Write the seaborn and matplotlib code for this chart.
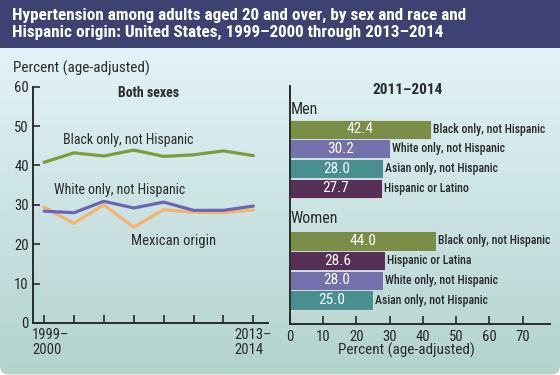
import numpy as np
import pandas as pd
import matplotlib
matplotlib.use("Agg")
import matplotlib.pyplot as plt
import matplotlib.transforms as mtransforms
from matplotlib.patches import FancyBboxPatch, Rectangle
import seaborn as sns

# ---- data ----
periods = ["1999–\n2000", "", "", "", "", "", "", "2013–\n2014"]
black_trend = [40.8, 43.2, 42.4, 43.9, 42.3, 42.7, 43.7, 42.5]
white_trend = [28.4, 28.0, 30.9, 29.2, 30.7, 28.6, 28.6, 29.7]
mexican_trend = [29.4, 25.3, 30.0, 24.3, 28.8, 28.1, 28.0, 28.7]

men_groups = ["Black only, not Hispanic", "White only, not Hispanic",
              "Asian only, not Hispanic", "Hispanic or Latino"]
men_values = [42.4, 30.2, 28.0, 27.7]
women_groups = ["Black only, not Hispanic", "Hispanic or Latina",
                "White only, not Hispanic", "Asian only, not Hispanic"]
women_values = [44.0, 28.6, 28.0, 25.0]

GREEN = "#7f9a3b"
BLUE = "#6a66b6"
ORANGE = "#f6b36e"
TEAL = "#3f9a9b"
PLUM = "#5c2a5c"
NAVY = "#3d4272"
DARK = "#2b2b2b"

bar_colors = {"Black only, not Hispanic": GREEN, "White only, not Hispanic": BLUE,
              "Asian only, not Hispanic": TEAL, "Hispanic or Latino": PLUM,
              "Hispanic or Latina": PLUM}

sns.set_theme(style="white")
plt.rcParams["font.family"] = ["Roboto Condensed", "DejaVu Sans"]

W, H = 560, 375
fig = plt.figure(figsize=(W / 100, H / 100), dpi=100)
fig.patch.set_facecolor("white")


def px_axes(x0, y0, x1, y1, **kw):
    return fig.add_axes([x0 / W, 1 - y1 / H, (x1 - x0) / W, (y1 - y0) / H], **kw)


def px_shift(dx, dy):
    return mtransforms.ScaledTranslation(dx / 100, dy / 100, fig.dpi_scale_trans)


# ---- background ----
bg = px_axes(0, 0, W, H, zorder=-10)
bg.set_xlim(0, W)
bg.set_ylim(H, 0)
bg.axis("off")
grad = np.linspace(0, 1, 256).reshape(-1, 1)
c0 = np.array(matplotlib.colors.to_rgb("#e3f3f9"))
c1 = np.array(matplotlib.colors.to_rgb("#b3d3cd"))
img = c0 + (c1 - c0) * grad[..., None]
im = bg.imshow(img, extent=(0, W, H, 48), aspect="auto")
clip = FancyBboxPatch((0, -20), W, H + 20 - 0.5, boxstyle="round,pad=0,rounding_size=9",
                      transform=bg.transData, facecolor="none", edgecolor="none")
bg.add_patch(clip)
im.set_clip_path(clip)
bg.add_patch(Rectangle((0, 0), W, 48, facecolor=NAVY, edgecolor="none"))
bg.text(12, 24, "Hypertension among adults aged 20 and over, by sex and race and\n"
        "Hispanic origin: United States, 1999–2000 through 2013–2014",
        color="white", fontsize=12.3, fontweight="bold", va="center", ha="left",
        linespacing=1.2)
bg.text(13, 68, "Percent (age-adjusted)", fontsize=11, va="center", ha="left", color=DARK)

# ---- left panel: trend lines ----
ax1 = px_axes(33, 86.7, 268, 323, facecolor="none")
trend = pd.DataFrame({
    "period": np.tile(np.arange(len(periods)), 3),
    "value": black_trend + white_trend + mexican_trend,
    "group": ["Black"] * 8 + ["White"] * 8 + ["Mexican"] * 8,
})
sns.lineplot(data=trend, x="period", y="value", hue="group",
             palette={"Black": GREEN, "White": BLUE, "Mexican": ORANGE},
             hue_order=["Black", "Mexican", "White"],
             linewidth=2.3, legend=False, ax=ax1)
ax1.set_xlim(-0.37, 7.49)
ax1.set_ylim(0, 60)
ax1.set_yticks([0, 10, 20, 30, 40, 50, 60])
ax1.set_xticks(range(len(periods)))
ax1.set_xticklabels([""] * len(periods))
xlab_trans = mtransforms.blended_transform_factory(ax1.transData, ax1.transAxes)
offsets = [-12, 0, 0, 0, 0, 0, 0, -19]
for i, (lab, off) in enumerate(zip(periods, offsets)):
    if lab:
        ax1.text(i, 0, lab, fontsize=10.5, ha="left", va="top", linespacing=1.05,
                 color=DARK, transform=xlab_trans + px_shift(off, -5), clip_on=False)
ax1.tick_params(axis="y", direction="in", length=5, width=1.2, color=DARK, labelsize=10.5, pad=3, left=True)
ax1.tick_params(axis="x", direction="in", length=6, width=1.2, color=DARK, bottom=True)
ax1.set_xlabel("")
ax1.set_ylabel("")
for s in ["top", "right"]:
    ax1.spines[s].set_visible(False)
for s in ["left", "bottom"]:
    ax1.spines[s].set_color(DARK)
    ax1.spines[s].set_linewidth(1.4)
ax1.text(3.5, 58.5, "Both sexes", fontsize=10, fontweight="bold", ha="center", va="center", color=DARK)
ax1.text(0.63, 46.4, "Black only, not Hispanic", fontsize=10, ha="left", va="center", color=DARK)
ax1.text(0.33, 33.8, "White only, not Hispanic", fontsize=10, ha="left", va="center", color=DARK)
ax1.text(2.9, 20.9, "Mexican origin", fontsize=10.5, ha="left", va="center", color=DARK)

# ---- right panel: bars ----
ax2 = px_axes(290, 86, 550, 324, facecolor="none")
gap = 5.68
bars = pd.DataFrame({
    "pos": [0, 1, 2, 3] + [gap + i for i in range(4)],
    "value": men_values + women_values,
    "group": men_groups + women_groups,
})
sns.barplot(data=bars, x="value", y="pos", hue="group", palette=bar_colors,
            orient="h", native_scale=True, dodge=False, width=0.97,
            edgecolor="#dce8e8", linewidth=0.6, legend=False, ax=ax2)
ax2.set_xlim(0, 78.2)
ax2.set_ylim(gap + 3 + 1.22, -2.2)
ax2.set_xticks(range(0, 80, 10))
ax2.set_yticks([])
ax2.tick_params(axis="x", direction="in", length=6, width=1.2, color=DARK, labelsize=10.5, pad=4, bottom=True)
ax2.set_xlabel("Percent (age-adjusted)", fontsize=11, color=DARK)
ax2.xaxis.set_label_coords(35.1 / 78.2, -0.08)
ax2.set_ylabel("")
for s in ["top", "right"]:
    ax2.spines[s].set_visible(False)
for s in ["left", "bottom"]:
    ax2.spines[s].set_color(DARK)
    ax2.spines[s].set_linewidth(1.4)
for pos, val, grp in zip(bars["pos"], bars["value"], bars["group"]):
    ax2.text(val / 2, pos, f"{val:.1f}", color="white", fontsize=11, ha="center", va="center")
    ax2.text(val + 0.5, pos, grp, color=DARK, fontsize=8.5, fontweight="medium", ha="left", va="center")
ax2.text(35.5, -2.0, "2011–2014", fontsize=11, fontweight="bold", ha="center", va="center", color=DARK)
ax2.text(0.1, -1.03, "Men", fontsize=11.5, ha="left", va="center", color=DARK)
ax2.text(0.1, 4.55, "Women", fontsize=11.5, ha="left", va="center", color=DARK)

fig.savefig("out.png", dpi=100)
